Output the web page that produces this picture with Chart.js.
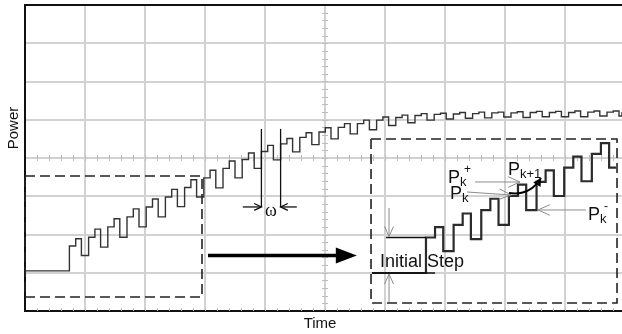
<!DOCTYPE html>
<html>
<head>
<meta charset="utf-8">
<script src="https://cdn.jsdelivr.net/npm/chart.js@4.4.1/dist/chart.umd.min.js"></script>
<style>
html,body{margin:0;padding:0;background:#ffffff;overflow:hidden;}
#box{position:relative;width:622px;height:334px;}
</style>
</head>
<body>
<div id="box"><canvas id="chart" width="622" height="334"></canvas></div>
<script>
// ---------------- data (axis units = screen divisions) ----------------
const xAxisTitle = 'Time';
const yAxisTitle = 'Power';
const initialStepLabel = 'Initial Step';
const omegaLabel = 'ω';

// times at which the power level changes
const stepTimes = [0,
  0.74,0.845,0.94, 1.06,1.165,1.26, 1.38,1.485,1.58, 1.70,1.805,1.90,
  2.02,2.125,2.22, 2.34,2.445,2.54, 2.66,2.765,2.86, 2.98,3.085,3.18,
  3.30,3.405,3.50, 3.62,3.725,3.82, 3.94,4.045,4.14, 4.26,4.365,4.46,
  4.58,4.685,4.78, 4.90,5.005,5.10, 5.22,5.325,5.42, 5.54,5.645,5.74,
  5.86,5.965,6.06, 6.18,6.285,6.38, 6.50,6.605,6.70, 6.82,6.925,7.02,
  7.14,7.245,7.34, 7.46,7.565,7.66, 7.78,7.885,7.98, 8.10,8.205,8.30,
  8.42,8.525,8.62, 8.74,8.845,8.94, 9.06,9.165,9.26, 9.38,9.485,9.58,
  9.70,9.805,9.90, 9.95];
// new power level from each time on  (P_k, P_k+, P_k-)
const stepLevels = [1.05,
  1.70,1.89,1.45, 1.93,2.14,1.67, 2.20,2.41,1.93, 2.46,2.67,2.20,
  2.72,2.93,2.46, 2.98,3.18,2.73, 3.23,3.43,2.98, 3.48,3.68,3.22,
  3.73,3.92,3.48, 3.96,4.13,3.73, 4.17,4.33,3.95, 4.37,4.51,4.16,
  4.54,4.66,4.35, 4.68,4.79,4.50, 4.80,4.90,4.63, 4.90,4.99,4.74,
  4.99,5.07,4.85, 5.06,5.12,4.92, 5.11,5.16,4.99, 5.14,5.17,5.02,
  5.15,5.19,5.04, 5.16,5.20,5.05, 5.18,5.20,5.07, 5.18,5.21,5.06,
  5.19,5.22,5.08, 5.19,5.22,5.08, 5.19,5.23,5.08, 5.20,5.23,5.10,
  5.20,5.23,5.10, 5.20];

// ---------------- layout / style ----------------
const FONT = "'Liberation Sans', Arial, Helvetica, sans-serif";
const SERIF = "'Liberation Serif', 'Times New Roman', serif";
const GRID = '#d2d2d2';

const ann = {
  leftBox:  {x0: 0,     x1: 2.95,  y0: 0.366, y1: 3.53},
  insetBox: {x0: 5.767, x1: 9.867, y0: 0.209, y1: 4.497},
  bigArrow: {x0: 3.05, x1: 5.53, y: 1.45},
  omega: {lines: [3.94, 4.26], yLo: 2.72, yHi: 4.76, arrowFrom: [3.63, 4.53], label: {x: 4.10, y: 2.62}},
  initial: {text: {x: 5.917, y: 1.15}, topFrom: 6.017, botFrom: 5.783, botTo: 6.833, arrowX: 6.067, downFrom: 2.693, upFrom: 0.235},
  labels: [
    {x: 7.05,  y: 3.346, sub: 'k',   sup: '+'},
    {x: 7.083, y: 2.928, sub: 'k',   sup: ''},
    {x: 8.05,  y: 3.556, sub: 'k+1', sup: ''},
    {x: 9.383, y: 2.379, sub: 'k',   sup: '-'}
  ],
  grayArrows: [
    [7.5, 3.373, 8.25, 3.373],
    [7.367, 3.111, 8.1, 3.033],
    [9.35, 2.641, 8.55, 2.641]
  ],
  curve: [8.067, 3.085, 8.417, 3.007, 8.6, 3.477],
  titleY: {x: -0.183, y: 4.784},
  titleX: {x: 4.917, y: -0.34}
};

const waveform = stepTimes.map((t, i) => ({x: t, y: stepLevels[i]}));

function arrowHead(ctx, x, y, ang, len, spread, filled) {
  const a1 = ang + Math.PI - spread, a2 = ang + Math.PI + spread;
  ctx.beginPath();
  ctx.moveTo(x + len * Math.cos(a1), y + len * Math.sin(a1));
  ctx.lineTo(x, y);
  ctx.lineTo(x + len * Math.cos(a2), y + len * Math.sin(a2));
  if (filled) { ctx.closePath(); ctx.fill(); } else { ctx.stroke(); }
}
function line(ctx, x1, y1, x2, y2) {
  ctx.beginPath(); ctx.moveTo(x1, y1); ctx.lineTo(x2, y2); ctx.stroke();
}

const scopePlugin = {
  id: 'scope',
  beforeDatasetsDraw(chart) {
    const {ctx, chartArea: a, scales: {x, y}} = chart;
    ctx.save();
    ctx.strokeStyle = '#bdbdbd';
    ctx.lineWidth = 1;
    const cy = y.getPixelForValue(4), cx = x.getPixelForValue(5);
    for (let v = 0.2; v < 9.95; v += 0.2) {
      const px = Math.round(x.getPixelForValue(v)) + 0.5;
      line(ctx, px, cy - 3, px, cy + 3);
      line(ctx, px, a.bottom - 3, px, a.bottom);
    }
    for (let v = 0.2; v < 8; v += 0.2) {
      const py = Math.round(y.getPixelForValue(v)) + 0.5;
      line(ctx, cx - 3, py, cx + 3, py);
    }
    ctx.strokeStyle = '#111';
    ctx.lineWidth = 2;
    line(ctx, a.left - 1, a.top, a.right, a.top);
    ctx.restore();
  }
};

const insetClip = {
  id: 'insetClip',
  beforeDatasetDraw(chart, args) {
    if (args.index !== 1) return;
    const {ctx, scales: {x, y}} = chart;
    const b = ann.insetBox;
    const l = x.getPixelForValue(b.x0), r = x.getPixelForValue(b.x1);
    const t = y.getPixelForValue(b.y1), btm = y.getPixelForValue(b.y0);
    ctx.save();
    ctx.beginPath(); ctx.rect(l + 1, t + 1, r - l - 2, btm - t - 2); ctx.clip();
  },
  afterDatasetDraw(chart, args) {
    if (args.index !== 1) return;
    chart.ctx.restore();
  }
};

const annotations = {
  id: 'annotations',
  afterDatasetsDraw(chart) {
    const {ctx, scales} = chart;
    const X = v => scales.x.getPixelForValue(v);
    const Y = v => scales.y.getPixelForValue(v);
    const XI = v => scales.xi.getPixelForValue(v);
    const YI = v => scales.yi.getPixelForValue(v);
    ctx.save();

    // dashed boxes
    ctx.strokeStyle = '#222';
    ctx.lineWidth = 1.6;
    ctx.setLineDash([10, 5]);
    for (const b of [ann.leftBox, ann.insetBox]) {
      const l = X(b.x0), r = X(b.x1), t = Y(b.y1), bt = Y(b.y0);
      ctx.strokeRect(l, t, r - l, bt - t);
    }
    ctx.setLineDash([]);

    // big arrow
    const ba = ann.bigArrow;
    ctx.strokeStyle = '#000'; ctx.fillStyle = '#000';
    ctx.lineWidth = 3.5;
    line(ctx, X(ba.x0), Y(ba.y), X(ba.x1) - 16, Y(ba.y));
    ctx.beginPath();
    ctx.moveTo(X(ba.x1), Y(ba.y));
    ctx.lineTo(X(ba.x1) - 21, Y(ba.y) - 8);
    ctx.lineTo(X(ba.x1) - 21, Y(ba.y) + 8);
    ctx.closePath(); ctx.fill();

    // omega markers
    const om = ann.omega;
    ctx.lineWidth = 1.3; ctx.strokeStyle = '#111';
    for (const lx of om.lines) line(ctx, X(lx), Y(om.yLo), X(lx), Y(om.yHi));
    line(ctx, X(om.arrowFrom[0]), Y(om.yLo), X(om.lines[0]), Y(om.yLo));
    arrowHead(ctx, X(om.lines[0]), Y(om.yLo), 0, 8, 0.45, false);
    line(ctx, X(om.arrowFrom[1]), Y(om.yLo), X(om.lines[1]), Y(om.yLo));
    arrowHead(ctx, X(om.lines[1]), Y(om.yLo), Math.PI, 8, 0.45, false);
    ctx.fillStyle = '#111';
    ctx.font = `18px ${SERIF}`;
    ctx.textAlign = 'center'; ctx.textBaseline = 'middle';
    ctx.fillText(omegaLabel, X(om.label.x), Y(om.label.y));

    // initial step
    const ini = ann.initial;
    ctx.strokeStyle = '#111'; ctx.lineWidth = 1.6;
    const yTop = YI(stepLevels[1]), yBot = YI(stepLevels[0]);
    line(ctx, X(ini.topFrom), yTop, XI(stepTimes[1]), yTop);
    line(ctx, X(ini.botFrom), yBot, X(ini.botTo), yBot);
    ctx.strokeStyle = '#8c8c8c'; ctx.lineWidth = 1;
    const ax = X(ini.arrowX);
    line(ctx, ax, Y(ini.downFrom), ax, yTop - 1);
    arrowHead(ctx, ax, yTop - 1, Math.PI / 2, 11, 0.42, false);
    line(ctx, ax, Y(ini.upFrom), ax, yBot + 1);
    arrowHead(ctx, ax, yBot + 1, -Math.PI / 2, 11, 0.42, false);
    ctx.fillStyle = '#111';
    ctx.font = `18px ${FONT}`;
    ctx.textAlign = 'left'; ctx.textBaseline = 'alphabetic';
    ctx.fillText(initialStepLabel, X(ini.text.x), Y(ini.text.y));

    // gray arrows to P labels
    ctx.strokeStyle = '#8c8c8c'; ctx.lineWidth = 1;
    for (const g of ann.grayArrows) {
      const x1 = X(g[0]), y1 = Y(g[1]), x2 = X(g[2]), y2 = Y(g[3]);
      line(ctx, x1, y1, x2, y2);
      arrowHead(ctx, x2, y2, Math.atan2(y2 - y1, x2 - x1), 13, 0.42, false);
    }
    // curved arrow P_k -> P_k+1
    const c = ann.curve;
    ctx.strokeStyle = '#000'; ctx.fillStyle = '#000'; ctx.lineWidth = 2;
    ctx.beginPath();
    ctx.moveTo(X(c[0]), Y(c[1]));
    ctx.quadraticCurveTo(X(c[2]), Y(c[3]), X(c[4]), Y(c[5]));
    ctx.stroke();
    arrowHead(ctx, X(c[4]), Y(c[5]), Math.atan2(Y(c[5]) - Y(c[3]), X(c[4]) - X(c[2])), 9, 0.5, true);

    // P labels
    ctx.fillStyle = '#111';
    for (const lb of ann.labels) {
      const px = X(lb.x), py = Y(lb.y);
      ctx.font = `18px ${FONT}`;
      ctx.fillText('P', px, py);
      const w = ctx.measureText('P').width;
      ctx.font = `13px ${FONT}`;
      ctx.fillText(lb.sub, px + w, py + 3);
      if (lb.sup) {
        ctx.font = `12px ${FONT}`;
        ctx.fillText(lb.sup, px + w + 4, py - 10);
      }
    }

    // axis titles
    ctx.font = `15px ${FONT}`;
    ctx.textAlign = 'center'; ctx.textBaseline = 'middle';
    ctx.fillText(xAxisTitle, X(ann.titleX.x), Y(ann.titleX.y));
    ctx.save();
    ctx.translate(X(ann.titleY.x), Y(ann.titleY.y));
    ctx.rotate(-Math.PI / 2);
    ctx.fillText(yAxisTitle, 0, 0);
    ctx.restore();

    ctx.restore();
  }
};

new Chart(document.getElementById('chart'), {
  type: 'line',
  data: {
    datasets: [
      {data: waveform, xAxisID: 'x', yAxisID: 'y', stepped: 'before',
       borderColor: '#333', borderWidth: 1.4, pointRadius: 0, fill: false},
      {data: waveform, xAxisID: 'xi', yAxisID: 'yi', stepped: 'before',
       borderColor: '#2b2b2b', borderWidth: 2.2, pointRadius: 0, fill: false}
    ]
  },
  options: {
    responsive: false,
    animation: false,
    devicePixelRatio: 1,
    layout: {padding: {left: 25, top: 5, right: 0, bottom: 23}},
    plugins: {legend: {display: false}, tooltip: {enabled: false}},
    scales: {
      x: {type: 'linear', axis: 'x', position: 'bottom', min: 0, max: 9.95,
          ticks: {display: false, stepSize: 1, includeBounds: false},
          grid: {color: GRID, lineWidth: 2, drawTicks: false},
          border: {display: true, color: '#111', width: 2}},
      y: {type: 'linear', axis: 'y', position: 'left', min: 0, max: 8,
          ticks: {display: false, stepSize: 1},
          grid: {color: GRID, lineWidth: 2, drawTicks: false},
          border: {display: true, color: '#111', width: 2}},
      xi: {type: 'linear', axis: 'x', position: 'bottom', display: false, min: -3.901, max: 3.009},
      yi: {type: 'linear', axis: 'y', position: 'left', display: false, min: 0.354, max: 5.958}
    }
  },
  plugins: [scopePlugin, insetClip, annotations]
});
</script>
</body>
</html>
